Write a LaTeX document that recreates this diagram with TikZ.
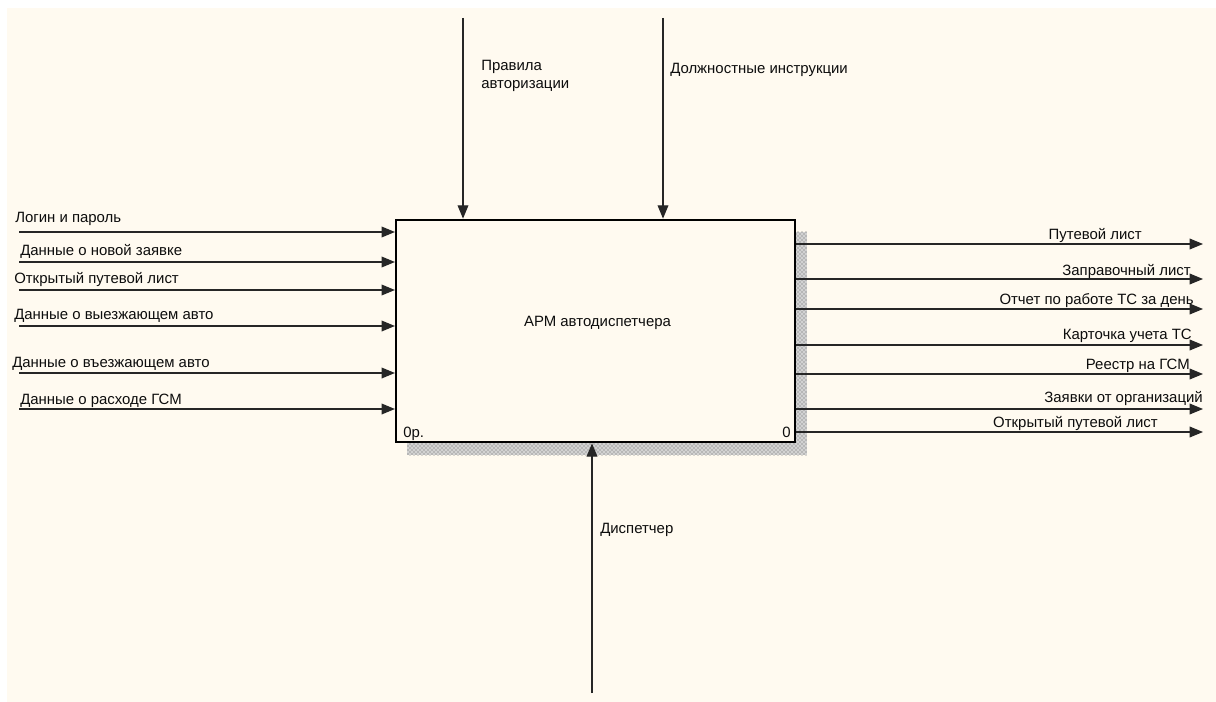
\documentclass[tikz,border=0pt]{standalone}
\usepackage{fontspec}
\setmainfont{Liberation Sans}
\usetikzlibrary{arrows.meta, patterns, positioning}
\definecolor{fonIDEF}{RGB}{255,250,240}
\definecolor{tenIDEF}{RGB}{95,95,95}

\begin{document}
\begin{tikzpicture}[x=0.75pt, y=-0.75pt,
        blok/.style={rectangle, draw=black, line width=1.6pt, fill=fonIDEF, minimum width=299.25pt, minimum height=166.9pt},
        strelka/.style={draw=black!85, line width=1pt, -{Triangle[length=10pt, width=8pt]}},
        metka/.style={inner sep=0pt, font=\fontsize{11.2}{14}\selectfont, text=black!95}]
        \useasboundingbox (0,0) rectangle (1216,702);
        \fill[fonIDEF] (7,8) rectangle (1216,702);
        % тень блока
        \fill[gray!35] (407,232) rectangle (807,455);
        \fill[pattern=crosshatch dots, pattern color=tenIDEF] (407,232) rectangle (807,455);
        \node[blok] (arm) at (595.5,331) {};
        \node[metka, anchor=base] (nazv) at (597.5,326) {АРМ автодиспетчера};
        \node[metka, anchor=base west] (nomer) at (403,437) {0р.};
        \node[metka, anchor=base east] (uzel) at (791,437) {0};
        % входы
        \coordinate (vh1) at (19,232);
        \coordinate (vh2) at (19,262);
        \coordinate (vh3) at (19,290);
        \coordinate (vh4) at (19,326);
        \coordinate (vh5) at (19,373);
        \coordinate (vh6) at (19,409);
        \draw[strelka] (vh1) -- (vh1 -| arm.west);
        \draw[strelka] (vh2) -- (vh2 -| arm.west);
        \draw[strelka] (vh3) -- (vh3 -| arm.west);
        \draw[strelka] (vh4) -- (vh4 -| arm.west);
        \draw[strelka] (vh5) -- (vh5 -| arm.west);
        \draw[strelka] (vh6) -- (vh6 -| arm.west);
        \node[metka, anchor=base west] (lvh1) at (15,223) {Логин и пароль};
        \node[metka, anchor=base west] (lvh2) at (20,255) {Данные о новой заявке};
        \node[metka, anchor=base west] (lvh3) at (14,283) {Открытый путевой лист};
        \node[metka, anchor=base west] (lvh4) at (14,319) {Данные о выезжающем авто};
        \node[metka, anchor=base west] (lvh5) at (12,367) {Данные о въезжающем авто};
        \node[metka, anchor=base west] (lvh6) at (20,404) {Данные о расходе ГСМ};
        % выходы
        \coordinate (vyh1) at (1203,244);
        \coordinate (vyh2) at (1203,279);
        \coordinate (vyh3) at (1203,309);
        \coordinate (vyh4) at (1203,345);
        \coordinate (vyh5) at (1203,374);
        \coordinate (vyh6) at (1203,409);
        \coordinate (vyh7) at (1203,432);
        \draw[strelka] (vyh1 -| arm.east) -- (vyh1);
        \draw[strelka] (vyh2 -| arm.east) -- (vyh2);
        \draw[strelka] (vyh3 -| arm.east) -- (vyh3);
        \draw[strelka] (vyh4 -| arm.east) -- (vyh4);
        \draw[strelka] (vyh5 -| arm.east) -- (vyh5);
        \draw[strelka] (vyh6 -| arm.east) -- (vyh6);
        \draw[strelka] (vyh7 -| arm.east) -- (vyh7);
        \node[metka, anchor=base east] (lvyh1) at (1142,239) {Путевой лист};
        \node[metka, anchor=base east] (lvyh2) at (1191,275) {Заправочный лист};
        \node[metka, anchor=base east] (lvyh3) at (1194,304) {Отчет по работе ТС за день};
        \node[metka, anchor=base east] (lvyh4) at (1192,339) {Карточка учета ТС};
        \node[metka, anchor=base east] (lvyh5) at (1190,369) {Реестр на ГСМ};
        \node[metka, anchor=base east] (lvyh6) at (1203,402) {Заявки от организаций};
        \node[metka, anchor=base east] (lvyh7) at (1158,427) {Открытый путевой лист};
        % управление
        \coordinate (upr1) at (463,18);
        \coordinate (upr2) at (663,18);
        \draw[strelka] (upr1) -- (upr1 |- arm.north);
        \draw[strelka] (upr2) -- (upr2 |- arm.north);
        \node[metka, anchor=base west, align=left] (lupr1) at (481,89) {Правила\\авторизации};
        \node[metka, anchor=base west] (lupr2) at (670,74) {Должностные инструкции};
        % механизм
        \coordinate (meh) at (592,693);
        \draw[strelka] (meh) -- (meh |- arm.south);
        \node[metka, anchor=base west] (lmeh) at (600,533) {Диспетчер};
    \end{tikzpicture}
\end{document}
